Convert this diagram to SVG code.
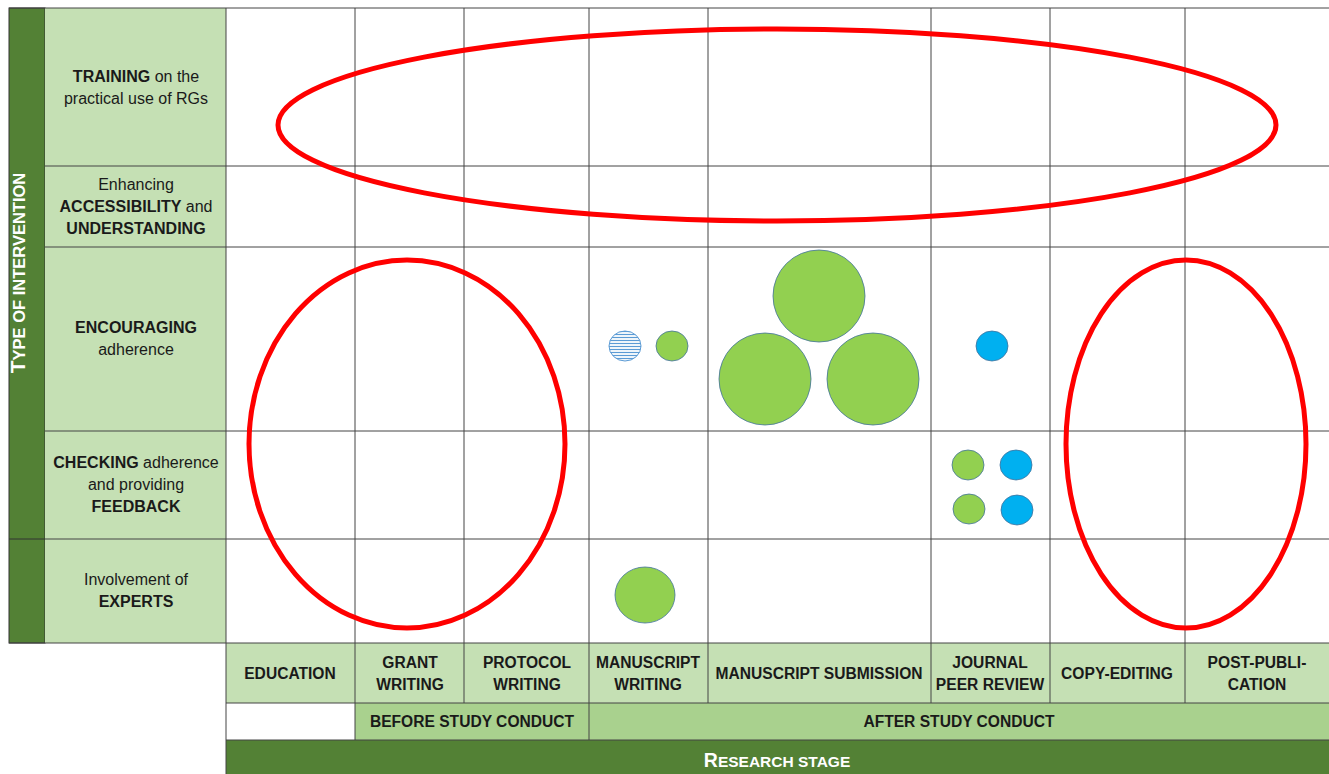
<svg xmlns="http://www.w3.org/2000/svg" width="1329" height="774" viewBox="0 0 1329 774">
<style>
.lbl{font-family:"Liberation Sans",Arial,sans-serif;font-size:16px;fill:#1a1a1a;text-anchor:middle}
.b{font-weight:bold}
.ax{font-family:"Liberation Sans",Arial,sans-serif;font-size:15.6px;font-weight:bold;fill:#1a1a1a;text-anchor:middle}
.grid{stroke:#444;stroke-width:1;fill:none}
.cg{fill:#92D050;stroke:#41719C;stroke-width:0.8}
.cb{fill:#00B0F0;stroke:#41719C;stroke-width:0.8}
.ring{fill:none;stroke:#FF0000;stroke-width:5}
.title{font-family:"Liberation Sans",Arial,sans-serif;font-weight:bold;fill:#fff}
</style>
<defs>
<pattern id="hatch" width="6" height="3" patternUnits="userSpaceOnUse">
<rect width="6" height="3" fill="#fff"/>
<line x1="0" y1="1.5" x2="6" y2="1.5" stroke="#5B9BD5" stroke-width="1.2"/>
</pattern>
</defs>
<rect width="1329" height="774" fill="#fff"/>
<g id="left-title">
<rect x="9" y="8" width="36" height="635" fill="#538135" stroke="#333" stroke-width="1"/>
<line x1="9" y1="539" x2="45" y2="539" stroke="#333" stroke-width="1"/>
<text class="title" transform="translate(25,273) rotate(-90)" text-anchor="middle"><tspan font-size="21">T</tspan><tspan font-size="16.5">YPE OF INTERVENTION</tspan></text>
</g>
<g id="row-labels">
<rect x="45" y="8" width="181" height="635" fill="#C5E0B4"/>
<g id="row-training"><text class="lbl" x="136" y="82"><tspan class="b">TRAINING</tspan> on the</text><text class="lbl" x="136" y="104">practical use of RGs</text></g>
<g id="row-access"><text class="lbl" x="136" y="190">Enhancing</text><text class="lbl" x="136" y="212"><tspan class="b">ACCESSIBILITY</tspan> and</text><text class="lbl" x="136" y="234" font-weight="bold">UNDERSTANDING</text></g>
<g id="row-encouraging"><text class="lbl b" x="136" y="333">ENCOURAGING</text><text class="lbl" x="136" y="355">adherence</text></g>
<g id="row-checking"><text class="lbl" x="136" y="468"><tspan class="b">CHECKING</tspan> adherence</text><text class="lbl" x="136" y="490">and providing</text><text class="lbl b" x="136" y="512">FEEDBACK</text></g>
<g id="row-experts"><text class="lbl" x="136" y="585">Involvement of</text><text class="lbl b" x="136" y="607">EXPERTS</text></g>
</g>
<g id="axis">
<rect x="226" y="643" width="1103" height="60" fill="#C5E0B4"/>
<rect x="355" y="703" width="974" height="37" fill="#A9D18E"/>
<rect x="226" y="740" width="1103" height="34" fill="#538135"/>
<g id="stage-labels">
<text class="ax" x="290" y="679">EDUCATION</text>
<text class="ax" x="410" y="668">GRANT</text><text class="ax" x="410" y="690">WRITING</text>
<text class="ax" x="527" y="668">PROTOCOL</text><text class="ax" x="527" y="690">WRITING</text>
<text class="ax" x="648" y="668">MANUSCRIPT</text><text class="ax" x="648" y="690">WRITING</text>
<text class="ax" x="819" y="679">MANUSCRIPT SUBMISSION</text>
<text class="ax" x="990" y="668">JOURNAL</text><text class="ax" x="990" y="690">PEER REVIEW</text>
<text class="ax" x="1117" y="679">COPY-EDITING</text>
<text class="ax" x="1257" y="668">POST-PUBLI-</text><text class="ax" x="1257" y="690">CATION</text>
</g>
<text class="ax" x="472" y="727">BEFORE STUDY CONDUCT</text>
<text class="ax" x="959" y="727">AFTER STUDY CONDUCT</text>
<text class="title" x="777" y="767" text-anchor="middle"><tspan font-size="19.5">R</tspan><tspan font-size="15.5">ESEARCH STAGE</tspan></text>
</g>
<g id="grid" class="grid">
<line x1="9" y1="8" x2="1329" y2="8"/>
<line x1="45" y1="166" x2="1329" y2="166"/>
<line x1="45" y1="247" x2="1329" y2="247"/>
<line x1="45" y1="431" x2="1329" y2="431"/>
<line x1="45" y1="539" x2="1329" y2="539"/>
<line x1="9" y1="643" x2="1329" y2="643"/>
<line x1="226" y1="703" x2="1329" y2="703"/>
<line x1="226" y1="740" x2="1329" y2="740"/>
<line x1="226" y1="8" x2="226" y2="774"/>
<line x1="355" y1="8" x2="355" y2="740"/>
<line x1="464" y1="8" x2="464" y2="703"/>
<line x1="589" y1="8" x2="589" y2="740"/>
<line x1="708" y1="8" x2="708" y2="703"/>
<line x1="931" y1="8" x2="931" y2="703"/>
<line x1="1050" y1="8" x2="1050" y2="703"/>
<line x1="1185" y1="8" x2="1185" y2="703"/>
</g>
<g id="bubbles">
<ellipse cx="625" cy="346" rx="16" ry="15" fill="url(#hatch)" stroke="#5B9BD5" stroke-width="1"/>
<ellipse class="cg" cx="672" cy="346" rx="16" ry="15"/>
<circle class="cg" cx="819" cy="296" r="46"/>
<circle class="cg" cx="765" cy="379" r="46"/>
<circle class="cg" cx="873" cy="379" r="46"/>
<ellipse class="cb" cx="992" cy="346" rx="16" ry="15"/>
<ellipse class="cg" cx="968" cy="465" rx="16" ry="15"/>
<ellipse class="cb" cx="1016" cy="465" rx="16" ry="15"/>
<ellipse class="cg" cx="969" cy="509" rx="16" ry="15"/>
<ellipse class="cb" cx="1017" cy="510" rx="16" ry="15"/>
<ellipse class="cg" cx="645" cy="595" rx="30" ry="28"/>
</g>
<g id="highlights">
<ellipse class="ring" cx="777" cy="125" rx="499" ry="96"/>
<ellipse class="ring" cx="407" cy="444" rx="158" ry="184"/>
<ellipse class="ring" cx="1186" cy="444" rx="120" ry="184"/>
</g>
</svg>
